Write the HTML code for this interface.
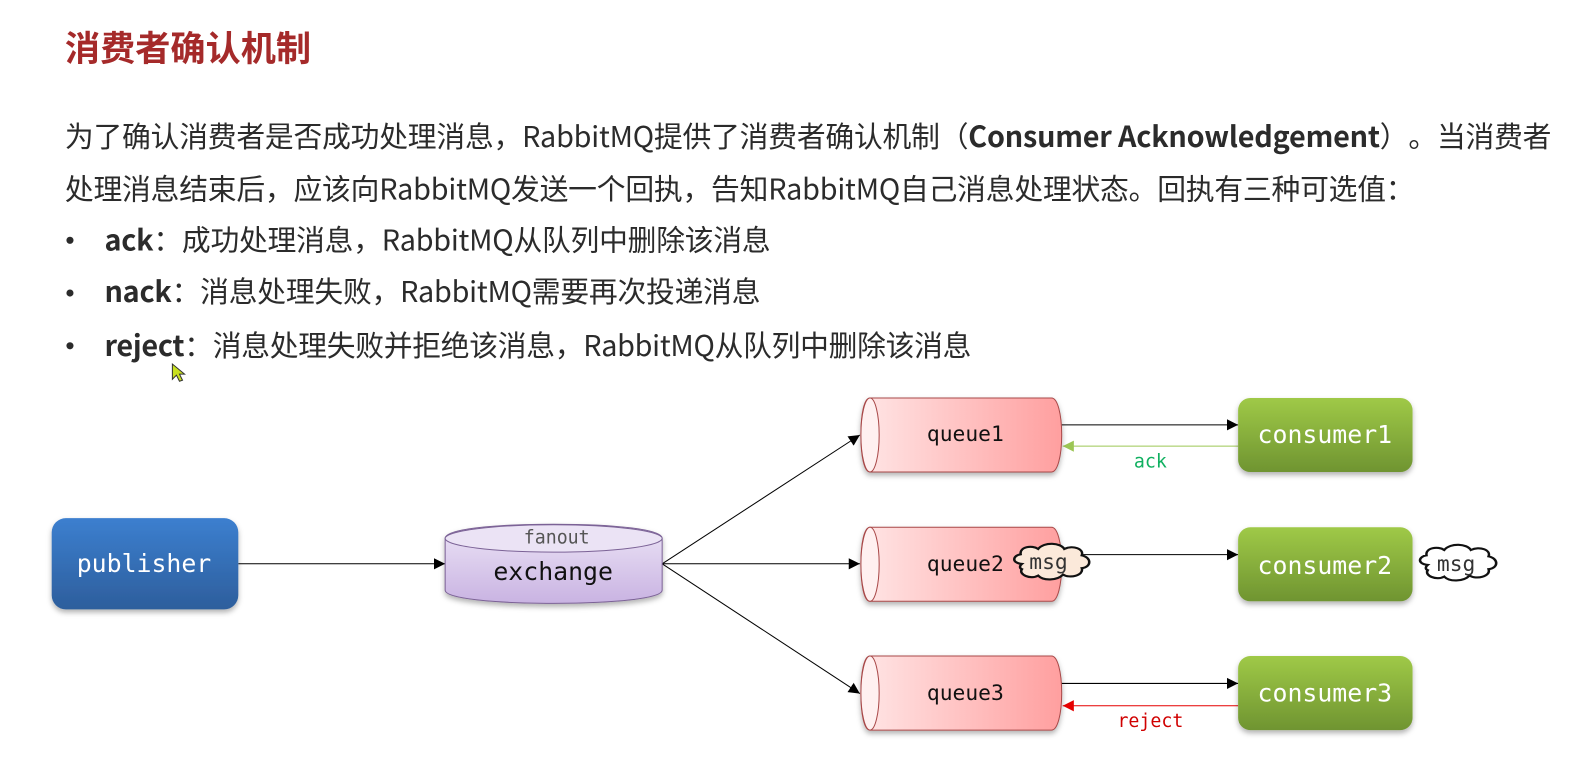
<!DOCTYPE html>
<html lang="zh-CN">
<head>
<meta charset="utf-8">
<title>消费者确认机制</title>
<style>
html,body{margin:0;padding:0;background:#fff;width:1590px;height:768px;overflow:hidden}
svg{display:block}
text{text-spacing-trim:space-all;font-kerning:normal}
.cjk{font-family:"Noto Sans CJK SC","Liberation Sans",sans-serif;font-size:28.400px;fill:#2b2b2b}
.cjk .b{font-weight:700}
.m{font-family:"DejaVu Sans Mono","Liberation Mono",monospace;text-anchor:middle}
</style>
</head>
<body>
<svg width="1590" height="768" viewBox="0 0 1568 757.400" preserveAspectRatio="none" xmlns="http://www.w3.org/2000/svg">
<defs>
<linearGradient id="blue" x1="0" y1="0" x2="0" y2="1"><stop offset="0" stop-color="#3c7fcf"/><stop offset="1" stop-color="#2d5e9c"/></linearGradient>
<linearGradient id="green" x1="0" y1="0" x2="0" y2="1"><stop offset="0" stop-color="#9fc947"/><stop offset="1" stop-color="#6f9431"/></linearGradient>
<linearGradient id="purple" x1="0" y1="0" x2="0" y2="1"><stop offset="0" stop-color="#ece4f6"/><stop offset="1" stop-color="#c9b3e2"/></linearGradient>
<linearGradient id="red" x1="0" y1="0" x2="1" y2="0"><stop offset="0" stop-color="#ffe6e6"/><stop offset="1" stop-color="#ff9f9f"/></linearGradient>
<filter id="sh" x="-10%" y="-10%" width="120%" height="130%"><feDropShadow dx="0" dy="3" stdDeviation="2.500" flood-color="#000" flood-opacity=".3"/></filter>
<marker id="ab" markerUnits="userSpaceOnUse" markerWidth="12" markerHeight="12" refX="11" refY="6" orient="auto"><path d="M0 0.500L11 6L0 11.500Z" fill="#000"/></marker>
<marker id="ag" markerUnits="userSpaceOnUse" markerWidth="12" markerHeight="12" refX="11" refY="6" orient="auto"><path d="M0 0.500L11 6L0 11.500Z" fill="#9cc655"/></marker>
<marker id="ar" markerUnits="userSpaceOnUse" markerWidth="12" markerHeight="12" refX="11" refY="6" orient="auto"><path d="M0 0.500L11 6L0 11.500Z" fill="#e60000"/></marker>
<g id="queue">
<path d="M858 0H1037C1043 0 1047 16 1047 36.500C1047 57 1043 73 1037 73H858C852 73 849 57 849 36.500C849 16 852 0 858 0Z" fill="url(#red)" stroke="#a84848" stroke-width="1" filter="url(#sh)"/>
<ellipse cx="858" cy="36.500" rx="9" ry="36.500" fill="#fff0f0" stroke="#a84848" stroke-width="1"/>
</g>
<path id="cloud" d="M12 22C3 21 5 14 11 13C10 6 20 4 25 8C30 1 43 2 46 8C53 4 62 8 60 14C68 16 68 25 60 26C62 33 50 36 45 32C40 38 29 38 25 33C19 37 9 32 12 27C10 26 10 24 12 22Z" stroke="#111" stroke-width="2"/>
</defs>

<text x="64" y="60" font-size="34.700" font-weight="700" fill="#a52a2a" style="font-family:'Noto Sans CJK SC',sans-serif">消费者确认机制</text>

<text class="cjk" x="64" y="145" textLength="1466" lengthAdjust="spacing">为了确认消费者是否成功处理消息，RabbitMQ提供了消费者确认机制（<tspan class="b">Consumer Acknowledgement</tspan>）。当消费者</text>
<text class="cjk" x="64" y="197" textLength="1331" lengthAdjust="spacing">处理消息结束后，应该向RabbitMQ发送一个回执，告知RabbitMQ自己消息处理状态。回执有三种可选值：</text>

<circle cx="69" cy="237" r="3.500" fill="#2b2b2b"/>
<circle cx="69" cy="289" r="3.500" fill="#2b2b2b"/>
<circle cx="69" cy="341" r="3.500" fill="#2b2b2b"/>
<text class="cjk" x="103" y="247" textLength="657" lengthAdjust="spacing"><tspan class="b">ack</tspan>：成功处理消息，RabbitMQ从队列中删除该消息</text>
<text class="cjk" x="103" y="298" textLength="647" lengthAdjust="spacing"><tspan class="b">nack</tspan>：消息处理失败，RabbitMQ需要再次投递消息</text>
<text class="cjk" x="103" y="351" textLength="855" lengthAdjust="spacing"><tspan class="b">reject</tspan>：消息处理失败并拒绝该消息，RabbitMQ从队列中删除该消息</text>

<path d="M170 359L170 374L174 370L177 376L180 375L177 369L182 369Z" fill="#c8e020" stroke="#333" stroke-width="1"/>

<!-- connectors -->
<line x1="235" y1="556" x2="439" y2="556" stroke="#000" stroke-width="1" marker-end="url(#ab)"/>
<line x1="653" y1="556" x2="848" y2="429" stroke="#000" stroke-width="1" marker-end="url(#ab)"/>
<line x1="653" y1="556" x2="848" y2="556" stroke="#000" stroke-width="1" marker-end="url(#ab)"/>
<line x1="653" y1="556" x2="848" y2="684" stroke="#000" stroke-width="1" marker-end="url(#ab)"/>
<line x1="1047" y1="419" x2="1221" y2="419" stroke="#000" stroke-width="1" marker-end="url(#ab)"/>
<line x1="1221" y1="440" x2="1048" y2="440" stroke="#9cc655" stroke-width="1" marker-end="url(#ag)"/>
<line x1="1047" y1="547" x2="1221" y2="547" stroke="#000" stroke-width="1" marker-end="url(#ab)"/>
<line x1="1047" y1="674" x2="1221" y2="674" stroke="#000" stroke-width="1" marker-end="url(#ab)"/>
<line x1="1221" y1="696" x2="1048" y2="696" stroke="#e60000" stroke-width="1" marker-end="url(#ar)"/>

<!-- publisher -->
<rect x="51" y="511" width="184" height="90" rx="14" fill="url(#blue)" filter="url(#sh)"/>
<text class="m" x="142" y="564" font-size="24.500" fill="#fff">publisher</text>

<!-- exchange -->
<path d="M439 531C439 522 485 517 546 517C607 517 653 522 653 531V582C653 590 607 595 546 595C485 595 439 590 439 582Z" fill="url(#purple)" stroke="#7b6296" stroke-width="1" filter="url(#sh)"/>
<ellipse cx="546" cy="531" rx="107" ry="13.500" fill="#ebe3f5" stroke="#7b6296" stroke-width="1"/>
<text class="m" x="549" y="536" font-size="18" fill="#555">fanout</text>
<text class="m" x="545.500" y="572" font-size="24.500" fill="#111">exchange</text>

<!-- queues -->
<use href="#queue" x="0" y="392.500"/>
<use href="#queue" x="0" y="520"/>
<use href="#queue" x="0" y="647"/>
<text class="m" x="952" y="435" font-size="21" fill="#111">queue1</text>
<text class="m" x="952" y="563" font-size="21" fill="#111">queue2</text>
<text class="m" x="952" y="690.500" font-size="21" fill="#111">queue3</text>

<!-- consumers -->
<g filter="url(#sh)">
<rect x="1221" y="392.500" width="172" height="73" rx="12" fill="url(#green)"/>
<rect x="1221" y="520" width="172" height="73" rx="12" fill="url(#green)"/>
<rect x="1221" y="647" width="172" height="73" rx="12" fill="url(#green)"/>
</g>
<text class="m" x="1306.500" y="437" font-size="24.500" fill="#fff">consumer1</text>
<text class="m" x="1306.500" y="566" font-size="24.500" fill="#fff">consumer2</text>
<text class="m" x="1306.500" y="692" font-size="24.500" fill="#fff">consumer3</text>

<!-- labels -->
<text class="m" x="1134.500" y="461" font-size="18" fill="#10b060">ack</text>
<text class="m" x="1134.500" y="717" font-size="18" fill="#d00000">reject</text>

<!-- clouds -->
<use href="#cloud" transform="translate(993 533) scale(1.230 1.050)" fill="#fbe9da"/>
<use href="#cloud" transform="translate(1393 534) scale(1.250 1.050)" fill="#fff"/>
<text class="m" x="1034" y="561" font-size="21" fill="#333">msg</text>
<text class="m" x="1436" y="563" font-size="21" fill="#333">msg</text>
</svg>
</body>
</html>
